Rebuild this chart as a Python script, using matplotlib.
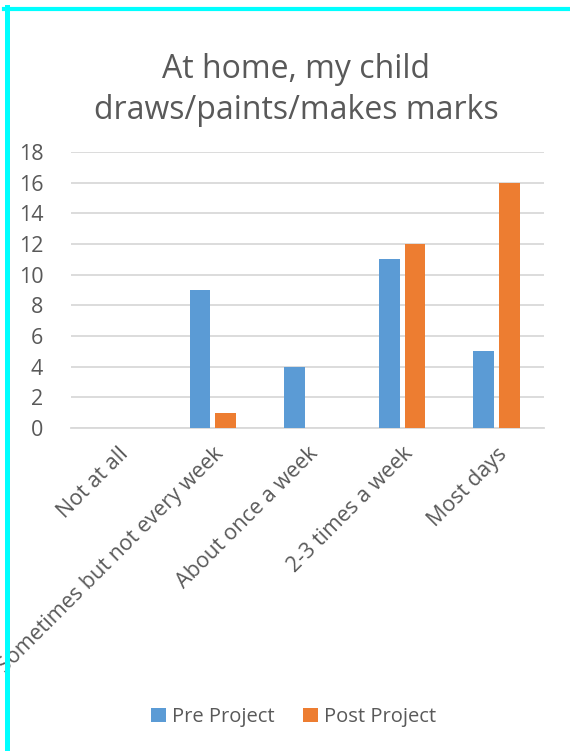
import matplotlib
matplotlib.use("Agg")
import matplotlib.pyplot as plt
from matplotlib.lines import Line2D
import numpy as np

plt.rcParams['font.family'] = ['Open Sans', 'DejaVu Sans']

categories = ["Not at all", "Sometimes but not every week", "About once a week",
              "2-3 times a week", "Most days"]
pre_project = [0, 9, 4, 11, 5]
post_project = [0, 1, 0, 12, 16]
yticks = [0, 2, 4, 6, 8, 10, 12, 14, 16, 18]

text_col = "#595959"
blue = "#5B9BD5"
orange = "#ED7D31"

fig = plt.figure(figsize=(5.7, 7.51), dpi=100)
ax = fig.add_axes([71 / 570, 1 - 428 / 751, 473 / 570, 276 / 751])

x = np.arange(len(categories))
w = 0.22
off = 0.137
ax.bar(x - off, pre_project, w, color=blue, label="Pre Project", zorder=3)
ax.bar(x + off, post_project, w, color=orange, label="Post Project", zorder=3)

ax.set_xlim(-0.5, len(categories) - 0.5)
ax.set_ylim(0, 18)
ax.set_yticks(yticks)
ax.yaxis.grid(True, color="#D9D9D9", linewidth=1.3, zorder=0)
for s in ["top", "right", "left"]:
    ax.spines[s].set_visible(False)
ax.spines["bottom"].set_color("#D9D9D9")
ax.spines["bottom"].set_linewidth(1.3)
ax.tick_params(axis="both", length=0, labelsize=15.5, colors=text_col)
ax.tick_params(axis="y", pad=20)

ax.set_xticks(x)
ax.set_xticklabels(categories, rotation=45, ha="right", va="top",
                   rotation_mode="anchor", fontsize=15.5, color=text_col)
ax.tick_params(axis="x", pad=11)

fig.text(0.52, 1 - 90 / 751, "At home, my child\ndraws/paints/makes marks",
         ha="center", va="center", fontsize=23, color=text_col, linespacing=1.35)

fig.legend(loc="center", bbox_to_anchor=(0.515, 1 - 717 / 751), ncol=2,
           frameon=False, fontsize=14.5, handlelength=0.75, handleheight=0.75,
           handletextpad=0.3, columnspacing=1.4, labelcolor=text_col)

# cyan frame along the top and left edges
fig.add_artist(Line2D([4 / 570, 1], [1 - 8.5 / 751, 1 - 8.5 / 751],
                      transform=fig.transFigure, color="#00FFFF", linewidth=3))
fig.add_artist(Line2D([6.5 / 570, 6.5 / 570], [0, 1 - 7 / 751],
                      transform=fig.transFigure, color="#00FFFF", linewidth=3.6))

fig.savefig("out.png", dpi=100)
